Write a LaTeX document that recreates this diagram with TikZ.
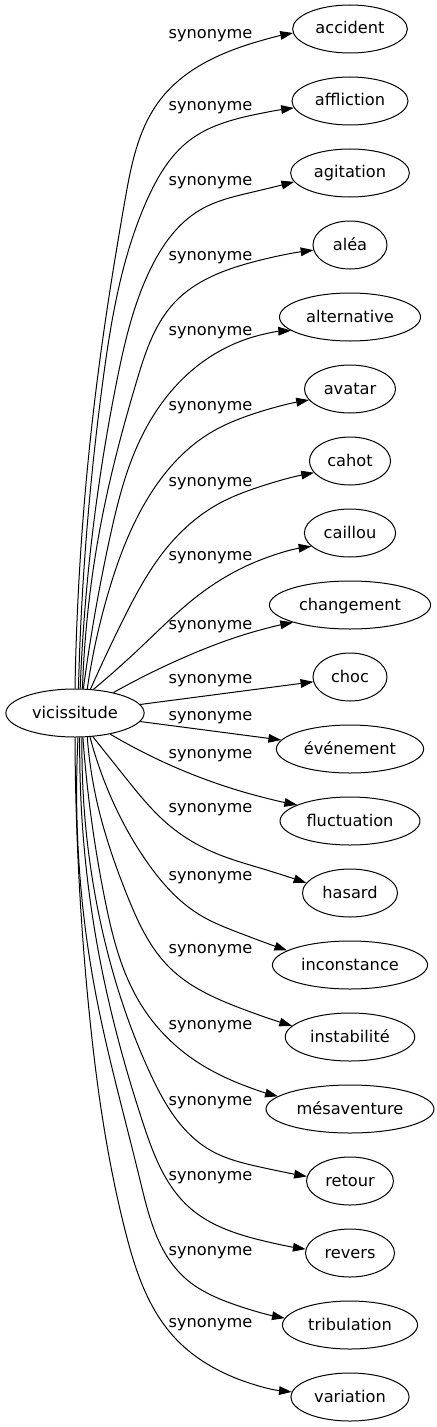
\documentclass[tikz,border=0pt]{standalone}
\usepackage{fontspec}
\setmainfont{DejaVu Sans}
\usetikzlibrary{arrows.meta,shapes.geometric,hobby}
\begin{document}
\begin{tikzpicture}[x=0.75pt,y=-0.75pt,use Hobby shortcut,
  txt/.style={font=\fontsize{12.15pt}{14pt}\selectfont, text height=8.5pt, text depth=1pt},
  word/.style={txt, draw, ellipse, line width=0.75pt, minimum width=55.5pt, minimum height=36pt, inner xsep=4.5pt, inner ysep=0pt},
  lab/.style={txt, inner sep=0pt},
  edge/.style={line width=0.75pt, -{Triangle[length=9.5pt,width=6.5pt]}}]
\useasboundingbox (0,0) rectangle (436,1427);

\node[word] (vic) at (75,713) {vicissitude};
\node[word] (acc) at (350,29) {accident};
\node[word] (aff) at (350,101) {affliction};
\node[word] (agi) at (350,173) {agitation};
\node[word] (ale) at (350,245) {aléa};
\node[word] (alt) at (350,317) {alternative};
\node[word] (ava) at (350,389) {avatar};
\node[word] (cah) at (350,461) {cahot};
\node[word] (cai) at (350,533) {caillou};
\node[word] (cha) at (350,605) {changement};
\node[word] (cho) at (350,677) {choc};
\node[word] (eve) at (350,749) {événement};
\node[word] (flu) at (350,821) {fluctuation};
\node[word] (has) at (350,893) {hasard};
\node[word] (inc) at (350,965) {inconstance};
\node[word] (ins) at (350,1037) {instabilité};
\node[word] (mes) at (350,1109) {mésaventure};
\node[word] (ret) at (350,1181) {retour};
\node[word] (rev) at (350,1253) {revers};
\node[word] (tri) at (350,1325) {tribulation};
\node[word] (var) at (350,1397) {variation};

\node[lab] (l0) at (210.5,33.5) {synonyme};
\node[lab] (l1) at (210.5,105.5) {synonyme};
\node[lab] (l2) at (210.5,180.5) {synonyme};
\node[lab] (l3) at (210.5,255.5) {synonyme};
\node[lab] (l4) at (210.5,330.5) {synonyme};
\node[lab] (l5) at (210.5,405.5) {synonyme};
\node[lab] (l6) at (210.5,481.5) {synonyme};
\node[lab] (l7) at (210.5,555.5) {synonyme};
\node[lab] (l8) at (210.5,624.5) {synonyme};
\node[lab] (l9) at (210.5,678.5) {synonyme};
\node[lab] (l10) at (210.5,715.5) {synonyme};
\node[lab] (l11) at (210.5,753.5) {synonyme};
\node[lab] (l12) at (210.5,807.5) {synonyme};
\node[lab] (l13) at (210.5,875.5) {synonyme};
\node[lab] (l14) at (210.5,948.5) {synonyme};
\node[lab] (l15) at (210.5,1024.5) {synonyme};
\node[lab] (l16) at (210.5,1100.5) {synonyme};
\node[lab] (l17) at (210.5,1175.5) {synonyme};
\node[lab] (l18) at (210.5,1250.5) {synonyme};
\node[lab] (l19) at (210.5,1322.5) {synonyme};

% upper edges
\draw[edge] (vic.90) .. (97,382) .. (125,200) .. (160,100) .. (253,43) .. (acc.184);
\draw[edge] (vic.82.9) .. (103,380) .. (147,200) .. (190,140) .. (253,115) .. (aff.187);
\draw[edge] (vic.78.2) .. (117,380) .. (150,270) .. (200,210) .. (253,192) .. (agi.189);
\draw[edge] (vic.73.7) .. (103,513) .. (137,380) .. (175,302) .. (253,262) .. (ale.188);
\draw[edge] (vic.71.5) .. (110,537) .. (140,440) .. (190,372) .. (253,337) .. (alt.193);
\draw[edge] (vic.63) .. (110,587) .. (153,490) .. (210,433) .. (253,414) .. (ava.195);
\draw[edge] (vic.57.3) .. (123,620) .. (165,550) .. (220,503) .. (253,489) .. (cah.198);
\draw[edge] (vic.52.2) .. (140,648) .. (200,594) .. (253,563) .. (cai.199);
\draw[edge] (vic.28) .. (185,657) .. (253,632) .. (cha.197);
\draw[edge] (vic) -- (cho);
% lower edges
\draw[edge] (vic) -- (eve);
\draw[edge] (vic.329.3) .. (170,765) .. (247,793) .. (flu.163);
\draw[edge] (vic.307.8) .. (125,777) .. (170,826) .. (220,855) .. (260,868) .. (has.167);
\draw[edge] (vic.302.7) .. (110,795) .. (147,862) .. (200,915) .. (237,932) .. (inc.167);
\draw[edge] (vic.297) .. (97,802) .. (127,895) .. (170,968) .. (240,1008) .. (ins.169);
\draw[edge] (vic.288.5) .. (105,900) .. (140,1003) .. (190,1057) .. (243,1085) .. (mes.170);
\draw[edge] (vic.286.3) .. (100,920) .. (150,1073) .. (210,1150) .. (260,1167) .. (ret.174);
\draw[edge] (vic.281.8) .. (100,960) .. (143,1123) .. (190,1208) .. (260,1240) .. (rev.175);
\draw[edge] (vic.277.1) .. (95,990) .. (140,1180) .. (185,1278) .. (233,1304) .. (tri.174);
\draw[edge] (vic.270) .. (88,1000) .. (125,1230) .. (175,1338) .. (233,1377) .. (var.175);
\end{tikzpicture}
\end{document}
